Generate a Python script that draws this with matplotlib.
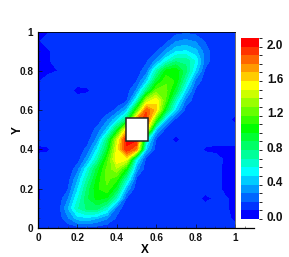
import matplotlib
matplotlib.use('Agg')
import matplotlib.pyplot as plt
import numpy as np
from matplotlib.colors import LinearSegmentedColormap, BoundaryNorm
from matplotlib.patches import Rectangle

plt.rcParams['font.family'] = ['Liberation Sans', 'DejaVu Sans']
plt.rcParams['font.weight'] = 'bold'

x = np.arange(21) * 0.05
y = np.arange(21) * 0.05

# field, one row per y value (0 at the bottom)
z = np.array([
 [.10,.10,.10,.10,.12,.14,.12,.10,.10,.10,.10,.10,.10,.10,.10,.10,.10,.10,.10,.10,.10],
 [.10,.10,.10,.25,.42,.45,.38,.28,.15,.10,.10,.10,.10,.10,.10,.10,.10,.10,.10,.10,.05],
 [.10,.10,.10,.35,.65,.80,.80,.60,.22,.10,.10,.10,.10,.10,.10,.10,.10,.10,.10,.08,.05],
 [.06,.10,.10,.25,.55,.85,1.0,.95,.60,.15,.10,.10,.10,.10,.10,.10,.10,.05,.08,.08,.05],
 [.06,.10,.10,.15,.45,.80,1.05,1.15,.90,.35,.10,.10,.10,.10,.10,.10,.10,.10,.10,.05,.05],
 [.10,.10,.10,.11,.35,.68,1.0,1.20,1.10,.65,.15,.10,.10,.10,.10,.10,.10,.10,.10,.05,.05],
 [.10,.10,.10,.10,.22,.55,.90,1.20,1.35,1.00,.32,.10,.10,.10,.10,.10,.10,.10,.10,.05,.05],
 [.10,.10,.10,.10,.12,.32,.65,1.10,1.55,1.50,.55,.12,.10,.10,.10,.10,.10,.10,.10,.06,.05],
 [.05,.06,.10,.10,.10,.20,.48,.90,1.50,1.95,1.75,.40,.12,.10,.10,.10,.10,.06,.05,.05,.05],
 [.10,.10,.10,.10,.10,.12,.30,.75,1.40,2.0,2.0,.60,.15,.10,.05,.10,.10,.10,.10,.10,.10],
 [.10,.10,.10,.10,.10,.10,.20,.40,.90,1.60,1.8,1.60,.40,.12,.10,.10,.10,.10,.10,.10,.10],
 [.08,.10,.10,.10,.10,.10,.10,.25,.45,.80,1.75,1.95,1.10,.38,.12,.10,.10,.10,.10,.10,.05],
 [.06,.10,.10,.10,.10,.10,.10,.10,.20,.40,1.10,1.85,1.60,.90,.42,.12,.10,.10,.10,.10,.10],
 [.06,.10,.10,.10,.10,.10,.10,.10,.10,.14,.55,1.35,1.55,1.15,.62,.25,.10,.10,.10,.10,.10],
 [.06,.10,.10,.10,.05,.06,.10,.10,.10,.12,.28,.75,1.20,1.20,.90,.45,.14,.10,.10,.10,.10],
 [.06,.10,.10,.10,.10,.10,.10,.10,.10,.10,.16,.40,.90,1.15,1.05,.65,.25,.10,.10,.10,.10],
 [.05,.05,.07,.10,.10,.10,.10,.10,.10,.10,.12,.22,.65,1.00,1.05,.80,.45,.14,.10,.10,.10],
 [.05,.06,.10,.10,.10,.10,.10,.10,.10,.10,.10,.15,.30,.55,.75,.75,.55,.22,.10,.10,.10],
 [.05,.06,.10,.10,.10,.10,.10,.10,.10,.10,.10,.10,.15,.30,.45,.48,.40,.22,.10,.10,.10],
 [.06,.10,.10,.10,.10,.10,.10,.10,.10,.10,.10,.10,.10,.14,.26,.30,.26,.16,.10,.10,.10],
 [.06,.06,.10,.10,.10,.10,.10,.10,.10,.10,.10,.10,.10,.10,.12,.14,.12,.10,.10,.10,.10],
])

levels = np.arange(22) * 0.1 - 0.03
colors = ['#0000ff', '#00ffff', '#00ff00', '#ffff00', '#ff0000']
cbar_ticks = [0.0, 0.4, 0.8, 1.2, 1.6, 2.0]
x_major = [0, 0.2, 0.4, 0.6, 0.8, 1]
x_labels = ['0', '0.2', '0.4', '0.6', '0.8', '1']
hole = (0.445, 0.445, 0.113, 0.113)

W, H = 289, 257
fig = plt.figure(figsize=(W / 100, H / 100), dpi=100)
ax = fig.add_axes([38 / W, 1 - 228 / H, (254 - 38) / W, 196.5 / H])

cmap = LinearSegmentedColormap.from_list('tec', colors, N=21)
norm = BoundaryNorm(levels, 21)
cf = ax.contourf(x, y, z, levels=levels, cmap=cmap, norm=norm)
ax.add_patch(Rectangle(hole[:2], hole[2], hole[3], fc='white', ec='#222222', lw=1.1, zorder=5))

ax.set_xlim(0, 216 / 197)
ax.set_ylim(0, 1)
ax.spines['top'].set_bounds(0, 1)
ax.spines['top'].set_linewidth(0.6)
ax.spines['right'].set_position(('data', 1))
ax.spines['right'].set_color('#555555')
ax.spines['right'].set_linewidth(0.6)
ax.spines['left'].set_linewidth(0.9)
ax.spines['bottom'].set_linewidth(0.9)

ax.set_xticks(x_major)
ax.set_xticklabels(x_labels)
ax.set_yticks(x_major)
ax.set_yticklabels(x_labels)
ax.set_xticks(np.arange(22)[1:] * 0.05, minor=True)
ax.set_yticks(np.arange(21) * 0.05, minor=True)
ax.tick_params(which='major', direction='in', length=3, width=0.5, labelsize=7.2, pad=3.5, colors='#111111')
ax.tick_params(which='minor', direction='in', length=1.5, width=0.4, colors='#333333')
ax.set_xlabel('X', fontsize=8.5, fontweight='bold')
ax.set_ylabel('Y', fontsize=8.5, fontweight='bold')
ax.xaxis.set_label_coords(107 / 216, -0.082)
ax.yaxis.set_label_coords(-0.064, 0.5)

cax = fig.add_axes([241 / W, 1 - 219 / H, 17.5 / W, 181 / H])
cb = fig.colorbar(cf, cax=cax, ticks=cbar_ticks, spacing='proportional')
cb.outline.set_visible(False)
cb.ax.set_yticklabels(['%.1f' % t for t in cbar_ticks])
cb.ax.tick_params(length=0, labelsize=8.5, pad=6, colors='#111111')

fig.savefig('out.png', dpi=100)
